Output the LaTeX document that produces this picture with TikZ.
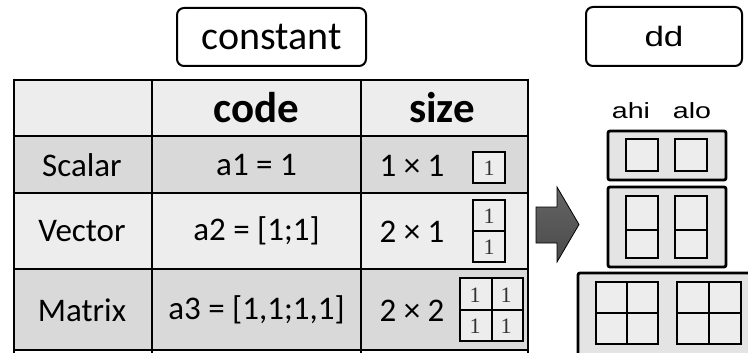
\documentclass[tikz,border=0pt]{standalone}
\usepackage{fontspec}
\setmainfont{Carlito}
\newfontfamily\arialf{Liberation Sans}
\newfontfamily\numf{Liberation Serif}
\usetikzlibrary{shadings}
\definecolor{rowlight}{HTML}{EDEDED}
\definecolor{rowdark}{HTML}{D9D9D9}
\definecolor{ddouter}{HTML}{E4E4E4}
\definecolor{ddinner}{HTML}{EDEDED}
\definecolor{arrowgray}{HTML}{4A4A4A}
\definecolor{numgray}{HTML}{333333}
\tikzset{
  titlebox/.style={draw=black, line width=2pt, rounded corners=7pt, fill=white},
  grid/.style={draw=black, line width=2.5pt},
  celltext/.style={font=\fontsize{33}{33}\selectfont, inner sep=0pt},
  headtext/.style={font=\fontsize{43}{43}\selectfont\bfseries, inner sep=0pt},
  mini/.style={draw=black, line width=2.5pt, fill=rowlight},
  miniline/.style={draw=black, line width=2pt},
  cellnum/.style={font=\numf\fontsize{22}{22}\selectfont, text=numgray, inner sep=0pt},
  ddbox/.style={draw=black, line width=2.8pt, fill=ddouter, rounded corners=2pt},
  ddcell/.style={draw=black, line width=2.5pt, fill=ddinner},
  ddline/.style={draw=black, line width=2pt},
  ddlabel/.style={font=\arialf\fontsize{22}{22}\selectfont, inner sep=0pt, xscale=1.3},
}
\begin{document}
\begin{tikzpicture}[x=1pt, y=-1pt]
\useasboundingbox (0,0) rectangle (748,353);
\clip (0,0) rectangle (748,353);

% title boxes
\node[titlebox, minimum width=189pt, minimum height=58pt,
      font=\fontsize{40}{40}\selectfont] (constant) at (271.5,37) {constant};
\node[titlebox, minimum width=156pt, minimum height=59pt] (dd) at (664,36.5) {};
\node[font=\arialf\fontsize{28}{28}\selectfont, inner sep=0pt, xscale=1.25]
  (ddtext) at (dd.center) {dd};

% table rows
\fill[rowlight] (14,80) rectangle (528,136);
\fill[rowdark]  (14,136) rectangle (528,193);
\fill[rowlight] (14,193) rectangle (528,269);
\fill[rowdark]  (14,269) rectangle (528,350);
\foreach \y in {80,136,193,269,350} \draw[grid] (12.75,\y) -- (529.25,\y);
\foreach \x in {14,152,361,528} \draw[grid] (\x,78.75) -- (\x,360);

% header
\node[headtext] (hcode) at (256.5,108) {code};
\node[headtext] (hsize) at (442,108) {size};

% first column
\node[celltext] (scalar) at (82,165) {Scalar};
\node[celltext] (vector) at (82,231) {Vector};
\node[celltext] (matrix) at (82,310) {Matrix};

% code column
\node[celltext] (c1) at (256.5,165) {a1 = 1};
\node[celltext] (c2) at (256.5,231) {a2 = [1;1]};
\node[celltext] (c3) at (256.5,310) {a3 = [1,1;1,1]};

% size column
\node[celltext] (s1) at (412,166) {1 × 1};
\node[celltext] (s2) at (412,232) {2 × 1};
\node[celltext] (s3) at (412,311) {2 × 2};

% scalar sketch
\draw[mini] (473,152) rectangle (505,183);
\node[cellnum] (m1) at (489,168) {1};
% vector sketch
\draw[mini] (473,200) rectangle (505,262);
\draw[miniline] (473,231) -- (505,231);
\node[cellnum] (v1) at (489,216) {1};
\node[cellnum] (v2) at (489,247) {1};
% matrix sketch
\draw[mini] (460,278) rectangle (523,341);
\draw[miniline] (460,310) -- (523,310);
\draw[miniline] (492,278) -- (492,341);
\node[cellnum] (x11) at (475,295.5) {1};
\node[cellnum] (x12) at (506,295.5) {1};
\node[cellnum] (x21) at (475,326) {1};
\node[cellnum] (x22) at (506,326) {1};

% block arrow
\draw[draw=black, line width=0.8pt, top color=arrowgray!85, bottom color=arrowgray]
  (536,207) -- (557,207) -- (557,187) -- (579,224.5) -- (557,262)
  -- (557,243) -- (536,243) -- cycle;

% dd labels
\node[ddlabel] (ahi) at (631,111) {ahi};
\node[ddlabel] (alo) at (692,111) {alo};

% dd scalar
\draw[ddbox] (608,131) rectangle (726,180);
\draw[ddcell] (626,139) rectangle (658,171);
\draw[ddcell] (675,139) rectangle (707,171);

% dd vector
\draw[ddbox] (608,187) rectangle (726,267);
\draw[ddcell] (626,196) rectangle (658,258);
\draw[ddcell] (675,196) rectangle (707,258);
\draw[ddline] (625,230) -- (658,230);
\draw[ddline] (674,230) -- (707,230);

% dd matrix
\draw[ddbox] (578,273) rectangle (770,380);
\draw[ddcell] (596,282) rectangle (658,344);
\draw[ddline] (627,282) -- (627,344);
\draw[ddline] (596,313) -- (658,313);
\draw[ddcell] (677,282) rectangle (741,344);
\draw[ddline] (709,282) -- (709,344);
\draw[ddline] (677,313) -- (741,313);
\end{tikzpicture}
\end{document}
